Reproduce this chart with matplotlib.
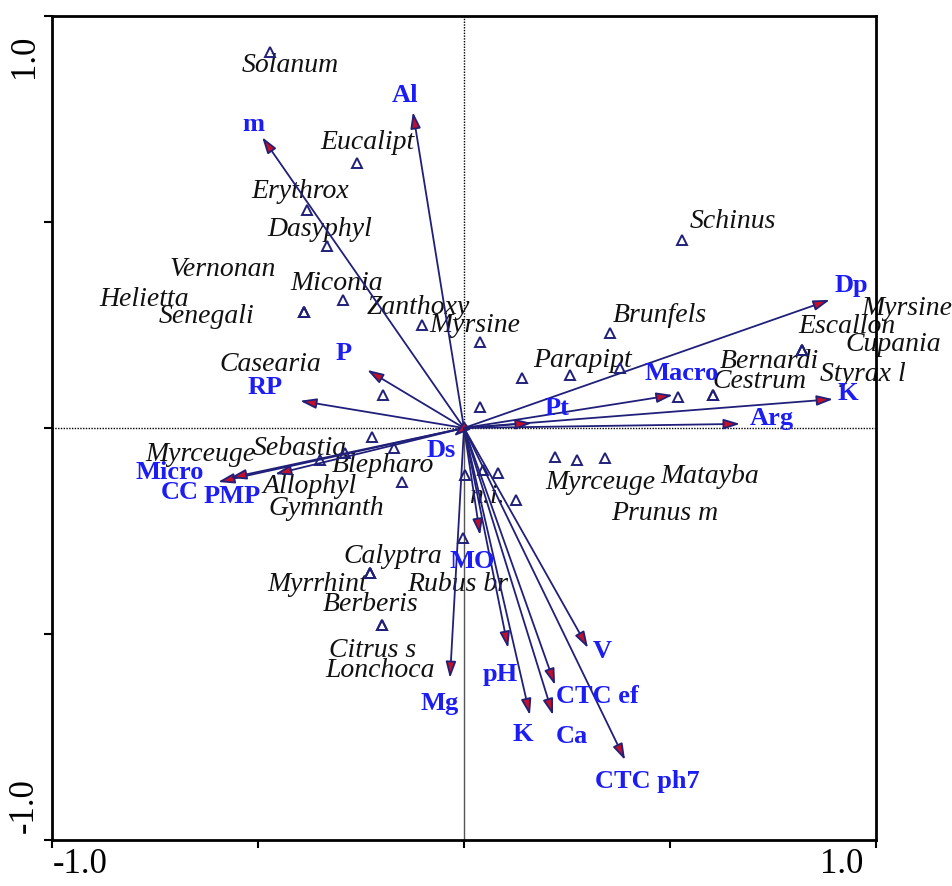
import matplotlib
matplotlib.use("Agg")
import matplotlib.pyplot as plt
from matplotlib.transforms import blended_transform_factory

# environmental variables: arrow tips (axis 1, axis 2)
env_names = ["Al", "m", "P", "RP", "Micro", "CC", "PMP", "Ds",
             "Dp", "K", "Arg", "Macro", "Pt",
             "Mg", "MO", "pH", "K", "Ca", "CTC ef", "V", "CTC ph7"]
env_x = [-0.124, -0.490, -0.235, -0.398, -0.597, -0.568, -0.459, -0.025,
         0.888, 0.896, 0.670, 0.507, 0.165,
         -0.034, 0.039, 0.107, 0.160, 0.216, 0.221, 0.301, 0.391]
env_y = [0.767, 0.706, 0.141, 0.066, -0.131, -0.121, -0.112, -0.020,
         0.311, 0.070, 0.010, 0.080, 0.012,
         -0.607, -0.260, -0.534, -0.697, -0.697, -0.624, -0.534, -0.806]

# species scores (several species share a position)
sp_names = ["Solanum", "Eucalipt", "Erythrox", "Dasyphyl",
            "Vernonan", "Helietta", "Senegali", "Miconia", "Zanthoxy",
            "Myrsine", "Casearia", "Sebastia", "Myrceuge", "Blepharo",
            "Allophyl", "Gymnanth",
            "", "n.i.", "", "", "Rubus br",
            "Calyptra", "Myrrhint", "Berberis", "Citrus s", "Lonchoca",
            "Schinus", "Brunfels", "", "Parapipt", "", "",
            "Bernardi", "Cestrum", "Styrax l", "Escallon", "Myrsine", "Cupania",
            "Myrceuge", "Prunus m", "Matayba"]
sp_x = [-0.471, -0.260, -0.381, -0.333,
        -0.388, -0.388, -0.388, -0.294, -0.102,
        0.039, -0.197, -0.223, -0.289, -0.150,
        -0.350, -0.170,
        0.002, 0.046, 0.083, 0.126, -0.002,
        -0.228, -0.228, -0.228, -0.199, -0.199,
        0.529, 0.354, 0.141, 0.257, 0.379, 0.039,
        0.519, 0.604, 0.604, 0.820, 0.820, 0.820,
        0.221, 0.274, 0.342]
sp_y = [0.913, 0.644, 0.529, 0.442,
        0.281, 0.281, 0.281, 0.311, 0.250,
        0.209, 0.080, -0.022, -0.061, -0.131,
        -0.078, -0.049,
        -0.114, -0.102, -0.109, -0.175, -0.267,
        -0.352, -0.352, -0.352, -0.478, -0.478,
        0.456, 0.231, 0.121, 0.129, 0.146, 0.051,
        0.075, 0.080, 0.080, 0.189, 0.189, 0.189,
        -0.070, -0.078, -0.073]

# label offsets in pixels from the point (x right, y up)
env_offsets = [(-8, 17), (-9, 14), (-24, 17), (-35, 14), (-48, 10), (-50, -14),
               (-43, -21), (-13, -13),
               (22, 15), (15, 7), (32, 6), (9, 23), (25, 16),
               (-10, -24), (-8, -25), (-8, -25), (-7, -18), (19, -20),
               (42, -10), (14, -2), (22, -20)]
sp_offsets = [(20, -13), (11, 21), (-7, 20), (-7, 17),
              (-81, 44), (-160, 14), (-98, -3), (-6, 17), (-4, 18),
              (-5, 17), (-113, 32), (-72, -10), (-145, 0), (-19, 17),
              (-10, -25), (-68, -59),
              (0, 0), (4, -25), (0, 0), (0, 0), (-6, -45),
              (23, 18), (-53, -10), (0, -30), (-9, -25), (-2, -45),
              (51, 20), (50, 18), (0, 0), (13, 15), (0, 0), (0, 0),
              (92, 37), (47, 15), (150, 22), (45, 25), (105, 43), (91, 7),
              (45, -25), (88, -52), (105, -17)]

NAVY = "#20207a"
HEAD = "#c0102a"
BLUE = "#1c1cf5"

fig = plt.figure(figsize=(9.53, 8.87), dpi=100)
ax = fig.add_axes([52 / 953, 46 / 887, 824 / 953, 824 / 887])
ax.set_xlim(-1, 1)
ax.set_ylim(-1, 1)

# zero lines: dotted, except the lower half of the vertical one
ax.axhline(0, color="black", lw=1.0, ls=(0, (1, 1)), zorder=1)
ax.plot([0, 0], [0, 1], color="black", lw=1.0, ls=(0, (1, 1)), zorder=1)
ax.plot([0, 0], [-1, 0], color="#555555", lw=1.0, zorder=1)

serif = "Liberation Serif"

# species
ax.plot(sp_x, sp_y, ls="none", marker="^", ms=7.5, mfc="none", mec=NAVY,
        mew=1.4, zorder=3)
for name, x, y, off in zip(sp_names, sp_x, sp_y, sp_offsets):
    if name:
        ax.annotate(name, (x, y), xytext=off, textcoords="offset pixels",
                    ha="center", va="center", fontsize=20, style="italic",
                    family=serif, color="#111111", zorder=2,
                    annotation_clip=False)

# environmental arrows
for name, x, y, off in zip(env_names, env_x, env_y, env_offsets):
    ax.annotate("", xy=(x, y), xytext=(0, 0),
                arrowprops=dict(arrowstyle="-|>,head_length=0.7,head_width=0.22",
                                mutation_scale=14, lw=1.3, ec=NAVY, fc=HEAD,
                                shrinkA=0, shrinkB=0),
                zorder=4)
    ax.annotate(name, (x, y), xytext=off, textcoords="offset pixels",
                ha="center", va="center", fontsize=19, weight="bold",
                family=serif, color=BLUE, zorder=5, annotation_clip=False)

# frame and ticks
for s in ax.spines.values():
    s.set_linewidth(2)
ax.set_xticks([-1, -0.5, 0, 0.5, 1])
ax.set_yticks([-1, -0.5, 0, 0.5, 1])
ax.tick_params(direction="out", length=6, width=1.5,
               labelbottom=False, labelleft=False)

xt = blended_transform_factory(ax.transData, fig.transFigure)
yt = blended_transform_factory(fig.transFigure, ax.transData)
ax.text(-0.932, 22 / 887, "-1.0", transform=xt, ha="center", va="center",
        fontsize=25, family=serif)
ax.text(0.917, 22 / 887, "1.0", transform=xt, ha="center", va="center",
        fontsize=25, family=serif)
ax.text(24 / 953, 0.905, "1.0", transform=yt, ha="center", va="center",
        rotation=90, fontsize=25, family=serif)
ax.text(24 / 953, -0.915, "-1.0", transform=yt, ha="center", va="center",
        rotation=90, fontsize=25, family=serif)

fig.savefig("out.png", dpi=100)
